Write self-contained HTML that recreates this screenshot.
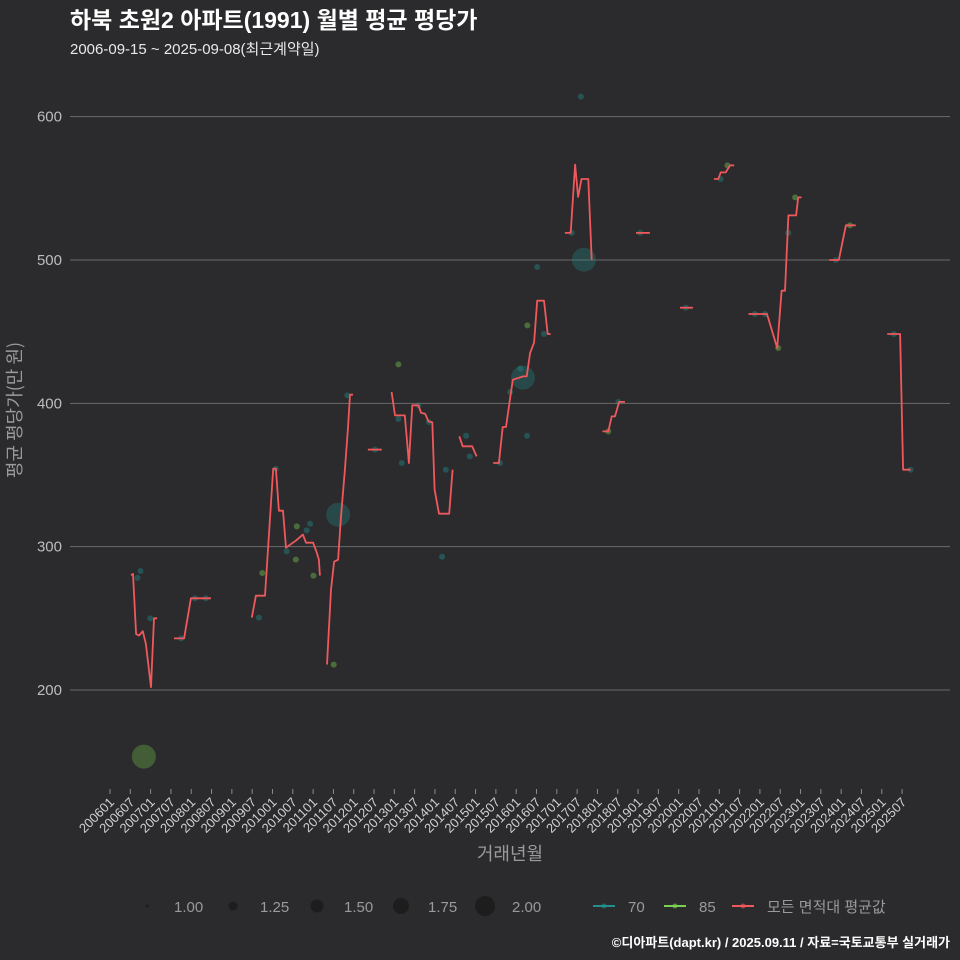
<!DOCTYPE html>
<html><head><meta charset="utf-8"><style>
html,body{margin:0;padding:0;background:#2b2b2d;}
svg{display:block;font-family:"Liberation Sans","Noto Sans CJK KR",sans-serif;}
</style></head><body>
<svg id="chart" width="960" height="960" viewBox="0 0 960 960" xmlns="http://www.w3.org/2000/svg">
<rect width="960" height="960" fill="#2b2b2d"/>
<text x="70" y="28" fill="#ffffff" font-size="23" font-weight="bold">하북 초원2 아파트(1991) 월별 평균 평당가</text>
<text x="70" y="54" fill="#e8e8e8" font-size="15">2006-09-15 ~ 2025-09-08(최근계약일)</text>
<g id="grid"></g>
<g id="yticks"></g>
<g id="xticks"></g>
<g id="points"></g>
<g id="lines"></g>
<text x="510" y="860" fill="#9a9a9a" font-size="18" text-anchor="middle">거래년월</text>
<text transform="translate(21,410) rotate(-90)" fill="#9a9a9a" font-size="18" text-anchor="middle" style="font-family:'Noto Sans CJK KR',sans-serif">평균 평당가(만 원)</text>
<g id="legend"></g>
<text x="950" y="947" fill="#ffffff" font-size="13" font-weight="bold" text-anchor="end">©디아파트(dapt.kr) / 2025.09.11 / 자료=국토교통부 실거래가</text>
</svg>
<script>
// months since 2006-01
const yTicks = [200, 300, 400, 500, 600];
const xTickLabels = ["200601","200607","200701","200707","200801","200807","200901","200907","201001","201007","201101","201107","201201","201207","201301","201307","201401","201407","201501","201507","201601","201607","201701","201707","201801","201807","201901","201907","202001","202007","202101","202107","202201","202207","202301","202307","202401","202407","202501","202507"];
const xTickMonths = [0,6,12,18,24,30,36,42,48,54,60,66,72,78,84,90,96,102,108,114,120,126,132,138,144,150,156,162,168,174,180,186,192,198,204,210,216,222,228,234];

const lineSegMonths = [
 [6.2,6.8,7.7,8.6,9.7,10.6,12.1,13.0,13.9],
 [18.9,21.9,23.9,29.8],
 [41.9,43.1,45.8,48.2,49.0,49.9,51.1,52.0,53.2,54.9,57.0,57.9,60.0,61.1,61.7,62.0],
 [64.1,65.3,66.2,67.4,68.2,69.4,70.3,70.9,71.8],
 [76.2,80.3],
 [83.2,84.2,87.1,88.3,89.3,91.1,91.9,93.1,94.1,95.2,95.9,97.2,100.2,101.2],
 [103.2,104.2,107.0,108.3],
 [113.2,114.9,116.0,117.0,119.0,122.1,123.1,124.1,125.3,126.2,128.2,129.3,130.2],
 [134.4,136.1,137.4,138.3,139.3,141.3,142.3],
 [145.5,147.2,148.2,149.2,150.4,152.1],
 [155.4,159.5],
 [168.4,172.2],
 [178.4,179.7,180.4,181.9,183.2,184.4],
 [188.6,194.1,197.1,198.4,199.4,200.4,202.7,203.3,204.3],
 [212.5,215.3,217.4,220.3],
 [229.6,233.4,234.3,236.5]
];
const lineSegValues = [
 [280,281,239,238,241,232,202,250,250],
 [236,236,264,264],
 [250.5,265.8,265.8,354.4,354.4,325.1,325.1,299.3,301.4,304.2,308.4,302.8,302.8,295.8,290.9,279.8],
 [217.7,270,289.5,290.9,320.2,353.7,383,406,406],
 [367.7,367.7],
 [407.9,391.6,391.6,358.4,398.6,398.6,393.3,392.8,387.4,386.7,339.8,323,323,353.7],
 [377,370,370,363],
 [358.4,358.4,383.5,383.5,416.5,418.8,418.8,435.1,442.5,471.6,471.6,448.4,448.4],
 [518.9,518.9,566.5,544,556.5,556.5,500.2],
 [380.4,380.4,390.9,390.9,401,401],
 [518.9,518.9],
 [466.7,466.7],
 [556.5,556.5,561.1,561.1,566,566],
 [462.3,462.3,438.6,478.6,478.6,531.1,531.1,543.7,543.7],
 [500,500,524.2,524.2],
 [448.4,448.4,353.7,353.7]
];

const ptMonths = [8.1,9.0,11.9,10.0,21.0,25.1,28.3,44.0,45.0,49.0,52.2,55.2,54.9,58.1,59.1,60.1,66.1,67.4,70.1,78.3,85.2,85.2,86.2,91.1,94.2,98.1,99.2,105.2,106.3,115.2,118.2,121.2,122.0,123.3,123.2,126.2,128.2,136.4,139.1,140.0,147.2,150.2,156.6,170.1,180.4,182.4,190.5,193.5,197.4,200.4,202.4,214.4,218.6,231.6,236.5];
const ptValues = [278.2,283,250,153.5,236,264,264,250.5,281.6,354.4,296.7,314.2,291,311.4,316,279.8,217.7,322.3,405.6,367.7,427.2,389.1,358.4,398.6,387,293,353.7,377.4,363,358.4,407.9,424.2,417.9,454.4,377.4,495.1,448.4,518.9,614,500.2,380.4,401,518.9,466.7,556.5,566,462.3,462.3,438.6,518.9,543.7,500,524.2,448.4,353.7];
const ptTypes = ["70","70","70","85","70","70","70","70","85","70","70","85","85","70","70","85","85","70","70","70","85","70","70","70","70","70","70","70","70","70","70","70","70","85","70","70","70","70","70","70","85","70","70","70","70","85","70","70","85","70","85","70","85","70","70"];
const ptCounts = [1,1,1,2,1,1,1,1,1,1,1,1,1,1,1,1,1,2,1,1,1,1,1,1,1,1,1,1,1,1,1,1,2,1,1,1,1,1,1,2,1,1,1,1,1,1,1,1,1,1,1,1,1,1,1];

const NS = "http://www.w3.org/2000/svg";
const X0 = 70, X1 = 950;
function xScale(m){ return 110 + m * 3.385; }
function yScale(v){ return 690 - (v - 200) * 1.4333; }
function rScale(c){ return 3 + (c - 1) * 9; }
const typeColor = {"70":"#21908c","85":"#7ad151"};
function mk(tag, attrs, parent){ const e=document.createElementNS(NS,tag); for(const k in attrs) e.setAttribute(k,attrs[k]); parent.appendChild(e); return e; }

const grid = document.getElementById('grid'), yt = document.getElementById('yticks'), xt = document.getElementById('xticks');
yTicks.forEach(v => {
  const l = mk('line',{x1:X0,x2:X1,y1:yScale(v),y2:yScale(v),stroke:'#6a6a6a','stroke-width':1},grid);
  
  
  const t = mk('text',{x:62,y:yScale(v)+5,fill:'#bdbdbd','font-size':15,'text-anchor':'end'},yt);
  t.textContent = v;
  
  
});
xTickMonths.forEach((m,i) => {
  const x = xScale(m);
  const tk = mk('line',{x1:x,x2:x,y1:789,y2:794,stroke:'#8a8a8a','stroke-width':1},xt);
  
  
  const t = mk('text',{transform:`translate(${x+5},${803}) rotate(-45)`,fill:'#d0d0d0','font-size':13,'text-anchor':'end'},xt);
  t.textContent = xTickLabels[i];
  
  
});

const pts = document.getElementById('points');
ptMonths.forEach((m,i) => {
  const c = mk('circle',{cx:xScale(m),cy:yScale(ptValues[i]),r:rScale(ptCounts[i]),fill:typeColor[ptTypes[i]],'fill-opacity':ptCounts[i]>1?0.3:0.4},pts);
  
  
});

const lg = document.getElementById('lines');
lineSegMonths.forEach((ms,si) => {
  const d = ms.map((m,j)=>(j?'L':'M')+xScale(m).toFixed(1)+','+yScale(lineSegValues[si][j]).toFixed(1)).join(' ');
  const p = mk('path',{d:d,fill:'none',stroke:'#f0585c','stroke-width':1.8,'stroke-linejoin':'round'},lg);
  
  
});

const leg = document.getElementById('legend');
const sizeVals = [1,1.25,1.5,1.75,2];
const sizeX = [147,233,317,401,485];
const sizeR = [1.5,4.5,6.5,8,10];
sizeVals.forEach((s,i) => {
  const c = mk('circle',{cx:sizeX[i],cy:906,r:sizeR[i],fill:'#1d1d1d'},leg);
  
  
  const t = mk('text',{x:sizeX[i]+27,y:912,fill:'#9a9a9a','font-size':15},leg);
  t.textContent = s.toFixed(2);
  
  
});
const lgItems = [["70","#21908c",604],["85","#7ad151",675],["모든 면적대 평균값","#f0585c",743]];
lgItems.forEach(it => {
  const l = mk('line',{x1:it[2]-11,x2:it[2]+11,y1:906,y2:906,stroke:it[1],'stroke-width':2},leg);
  
  
  const c = mk('circle',{cx:it[2],cy:906,r:2.5,fill:it[1],'fill-opacity':0.6},leg);
  
  
  const t = mk('text',{x:it[2]+24,y:912,fill:'#9a9a9a','font-size':15},leg);
  t.textContent = it[0];
  
  
});
</script>
</body></html>
